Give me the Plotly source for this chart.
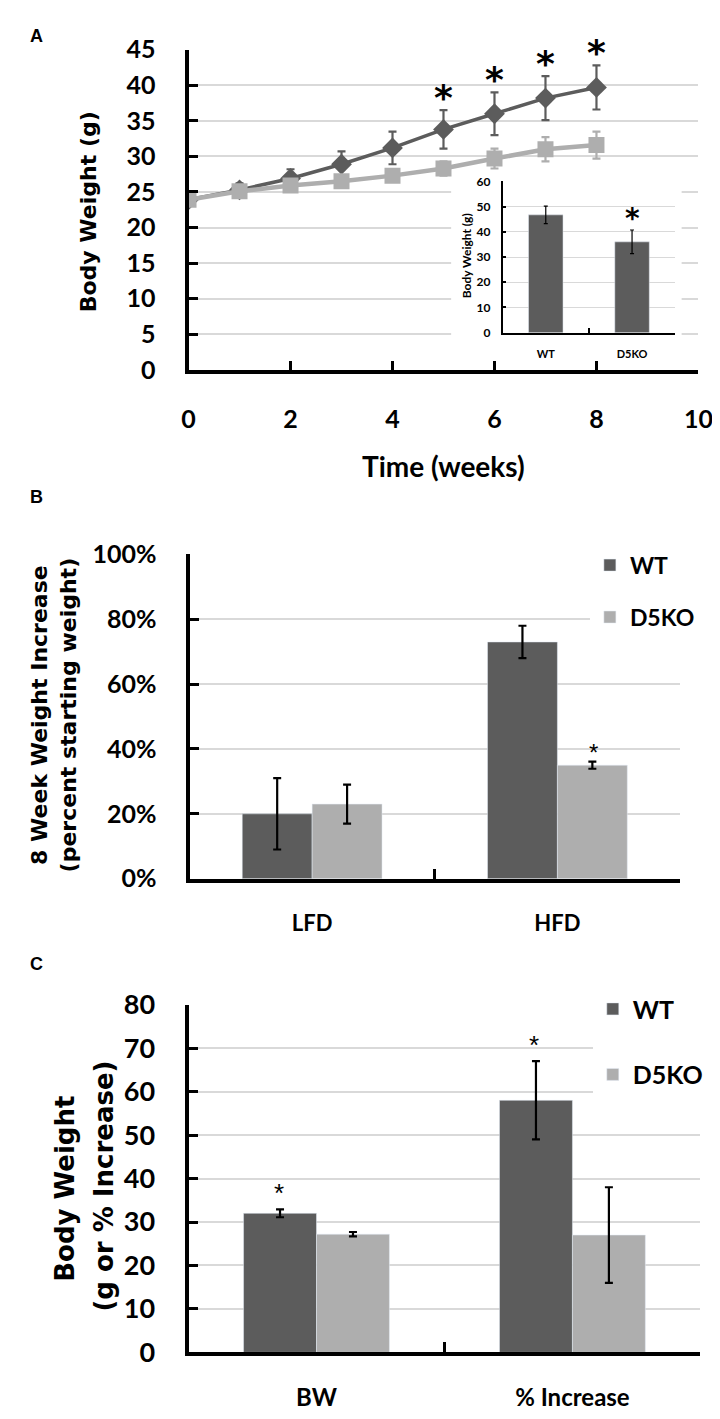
import plotly.graph_objects as go

# ---------------- data ----------------
weeks = [0, 1, 2, 3, 4, 5, 6, 7, 8]
wt_mean = [23.9, 25.3, 26.9, 28.9, 31.2, 33.8, 36.0, 38.2, 39.7]
wt_err = [0.5, 0.9, 1.3, 1.8, 2.3, 2.7, 3.0, 3.1, 3.1]
ko_mean = [23.9, 25.1, 25.9, 26.5, 27.3, 28.3, 29.7, 31.0, 31.6]
ko_err = [0.5, 0.6, 0.6, 0.7, 0.8, 1.0, 1.4, 1.7, 1.9]
wt_sig = [False, False, False, False, False, True, True, True, True]

inset_groups = ["WT", "D5KO"]
inset_vals = [46.7, 36.0]
inset_err = [3.5, 4.7]
inset_sig = [False, True]

diets = ["LFD", "HFD"]
b_wt = [20, 73]
b_wt_err = [11, 5]
b_ko = [23, 35]
b_ko_err = [6, 1.1]
b_ko_sig = [False, True]

c_cats = ["BW", "% Increase"]
c_wt = [32, 58]
c_wt_err = [0.9, 9]
c_ko = [27.2, 27]
c_ko_err = [0.5, 11]
c_wt_sig = [True, True]

# ---------------- style ----------------
W, H = 720, 1419
DARK = "#5c5c5c"
LIGHT = "#aeaeae"
GRID = "#d9d9d9"
TICKF = "Lato"


def fx(p):
    return p / W


def fy(p):
    return 1 - p / H


fig = go.Figure()

# Panel A lines
fig.add_trace(go.Scatter(
    x=weeks, y=wt_mean, mode="lines+markers", name="WT",
    line=dict(color=DARK, width=3.5),
    marker=dict(symbol="diamond", size=16, color=DARK),
    error_y=dict(type="data", array=wt_err, color=DARK, thickness=2.2, width=4),
    xaxis="x", yaxis="y", showlegend=False))
fig.add_trace(go.Scatter(
    x=weeks, y=ko_mean, mode="lines+markers", name="D5KO",
    line=dict(color=LIGHT, width=4.5),
    marker=dict(symbol="square", size=16, color=LIGHT),
    error_y=dict(type="data", array=ko_err, color=LIGHT, thickness=2.2, width=4),
    xaxis="x", yaxis="y", showlegend=False))

# Inset
fig.add_trace(go.Bar(
    x=inset_groups, y=inset_vals, marker_color=DARK, width=0.4,
    error_y=dict(type="data", array=inset_err, color="black", thickness=1.2, width=2),
    xaxis="x2", yaxis="y2", showlegend=False))

# Panel B
fig.add_trace(go.Bar(
    x=diets, y=b_wt, name="WT", marker_color=DARK,
    error_y=dict(type="data", array=b_wt_err, color="black", thickness=2.2, width=4),
    xaxis="x3", yaxis="y3", legend="legend", legendgroup="bwt"))
fig.add_trace(go.Bar(
    x=diets, y=b_ko, name="D5KO", marker_color=LIGHT,
    error_y=dict(type="data", array=b_ko_err, color="black", thickness=2.2, width=4),
    xaxis="x3", yaxis="y3", legend="legend", legendgroup="bko"))

# Panel C
fig.add_trace(go.Bar(
    x=c_cats, y=c_wt, name="WT", marker_color=DARK,
    error_y=dict(type="data", array=c_wt_err, color="black", thickness=2.2, width=4),
    xaxis="x4", yaxis="y4", legend="legend2", legendgroup="cwt"))
fig.add_trace(go.Bar(
    x=c_cats, y=c_ko, name="D5KO", marker_color=LIGHT,
    error_y=dict(type="data", array=c_ko_err, color="black", thickness=2.2, width=4),
    xaxis="x4", yaxis="y4", legend="legend2", legendgroup="cko"))

axis_common = dict(showline=True, linecolor="black", zeroline=False,
                   ticks="inside", tickcolor="black")


def tfont(size):
    return dict(family=TICKF, size=size, color="black", weight="bold")


layout = dict(
    width=W, height=H, margin=dict(l=0, r=0, t=0, b=0),
    paper_bgcolor="white", plot_bgcolor="white",
    barmode="group", bargap=0.43, bargroupgap=0,
    # Panel A
    xaxis=dict(domain=[fx(179), fx(705)], range=[0, 10], dtick=2, anchor="y",
               linewidth=4, ticklen=9, tickwidth=3, showgrid=False,
               tickfont=tfont(25), ticklabelstandoff=24, **axis_common),
    yaxis=dict(domain=[fy(352), fy(24.3)], range=[0, 45], dtick=5, anchor="x",
               linewidth=4, ticklen=9, tickwidth=3, showgrid=True,
               gridcolor=GRID, gridwidth=2, tickfont=tfont(25),
               ticklabelstandoff=24, **axis_common),
    # Inset
    xaxis2=dict(domain=[fx(503), fx(681)], type="category", anchor="y2",
                tickson="boundaries", linewidth=1.5, ticklen=5, tickwidth=1.5,
                showgrid=False, tickfont=tfont(11), ticklabelstandoff=10,
                **axis_common),
    yaxis2=dict(domain=[fy(314), fy(159)], range=[0, 60], dtick=10, anchor="x2",
                linewidth=1.5, ticklen=4, tickwidth=1.5, showgrid=True,
                gridcolor=GRID, gridwidth=1, tickfont=tfont(12),
                ticklabelstandoff=8, **axis_common),
    # Panel B
    xaxis3=dict(domain=[fx(180), fx(686)], type="category", anchor="y3",
                tickson="boundaries", linewidth=4, ticklen=10, tickwidth=3,
                showgrid=False, tickfont=tfont(22), ticklabelstandoff=22,
                **axis_common),
    yaxis3=dict(domain=[fy(873), fy(541)], range=[0, 100], dtick=20, anchor="x3",
                ticksuffix="%", linewidth=4, ticklen=9, tickwidth=3,
                showgrid=True, gridcolor=GRID, gridwidth=2, tickfont=tfont(25),
                ticklabelstandoff=24, **axis_common),
    # Panel C
    xaxis4=dict(domain=[fx(179), fx(707)], type="category", anchor="y4",
                tickson="boundaries", linewidth=4, ticklen=10, tickwidth=3,
                showgrid=False, tickfont=tfont(24), ticklabelstandoff=21,
                **axis_common),
    yaxis4=dict(domain=[fy(1358), fy(1002)], range=[0, 80], dtick=10, anchor="x4",
                linewidth=4, ticklen=9, tickwidth=3, showgrid=True,
                gridcolor=GRID, gridwidth=2, tickfont=tfont(27),
                ticklabelstandoff=24, **axis_common),
    legend=dict(x=fx(593), y=fy(530), xanchor="left", yanchor="top",
                bgcolor="white", borderwidth=0, tracegroupgap=19,
                font=dict(family=TICKF, size=23, color="black", weight="bold")),
    legend2=dict(x=fx(596), y=fy(983), xanchor="left", yanchor="top",
                 bgcolor="white", borderwidth=0, tracegroupgap=30,
                 font=dict(family=TICKF, size=25, color="black", weight="bold")),
)
fig.update_layout(**layout)

# white backing for the inset (covers the main gridlines behind it)
fig.add_shape(type="rect", xref="x", yref="y",
              x0=5.15, x1=9.67, y0=0.3, y1=27.0,
              fillcolor="white", line_width=0, layer="between")

ann = []
# Panel letters
for letter, ypx in [("A", 10), ("B", 482), ("C", 960)]:
    ann.append(dict(text=letter, x=fx(22), y=fy(ypx), xref="paper", yref="paper",
                    showarrow=False, xanchor="center", yanchor="middle",
                    font=dict(family="Liberation Sans", size=18, color="black", weight="bold")))

TITLEF = "DejaVu Sans"
# Axis titles
ann.append(dict(text="Body Weight (g)", x=fx(76), y=fy(190), xref="paper", yref="paper",
                textangle=-90, showarrow=False, xanchor="center", yanchor="middle",
                font=dict(family=TITLEF, size=22, color="black", weight="bold")))
ann.append(dict(text="Time (weeks)", x=fx(442), y=fy(450), xref="paper", yref="paper",
                showarrow=False, xanchor="center", yanchor="middle",
                font=dict(family=TICKF, size=28, color="black", weight="bold")))
ann.append(dict(text="Body Weight (g)", x=fx(466), y=fy(235), xref="paper", yref="paper",
                textangle=-90, showarrow=False, xanchor="center", yanchor="middle",
                font=dict(family=TICKF, size=12, color="black", weight="bold")))
ann.append(dict(text="8 Week Weight Increase<br>(percent starting weight)",
                x=fx(40), y=fy(705), xref="paper", yref="paper",
                textangle=-90, showarrow=False, xanchor="center", yanchor="middle",
                font=dict(family=TITLEF, size=22, color="black", weight="bold")))
ann.append(dict(text="Body Weight", x=fx(52), y=fy(1190), xref="paper", yref="paper",
                textangle=-90, showarrow=False, xanchor="center", yanchor="middle",
                font=dict(family=TITLEF, size=26, color="black", weight="bold")))
ann.append(dict(text="(g or % Increase)", x=fx(92), y=fy(1188), xref="paper", yref="paper",
                textangle=-90, showarrow=False, xanchor="center", yanchor="middle",
                font=dict(family=TITLEF, size=26, color="black", weight="bold")))

# significance asterisks
for wk, m, e, s in zip(weeks, wt_mean, wt_err, wt_sig):
    if s:
        ann.append(dict(text="*", x=wk, y=m + e, xref="x", yref="y", showarrow=False,
                        xanchor="center", yanchor="middle", yshift=13,
                        font=dict(family="DejaVu Sans", size=36, color="black", weight="bold")))
for g, m, e, s in zip(inset_groups, inset_vals, inset_err, inset_sig):
    if s:
        ann.append(dict(text="*", x=g, y=m + e, xref="x2", yref="y2", showarrow=False,
                        xanchor="center", yanchor="middle", yshift=12,
                        font=dict(family="DejaVu Sans", size=28, color="black", weight="bold")))
for g, m, e, s in zip(diets, b_ko, b_ko_err, b_ko_sig):
    if s:
        ann.append(dict(text="*", x=g, y=m + e, xref="x3", yref="y3", showarrow=False,
                        xanchor="center", yanchor="middle", yshift=9, xshift=36,
                        font=dict(family="Liberation Sans", size=24, color="black")))
for g, m, e, s in zip(c_cats, c_wt, c_wt_err, c_wt_sig):
    if s:
        ann.append(dict(text="*", x=g, y=m + e, xref="x4", yref="y4", showarrow=False,
                        xanchor="center", yanchor="middle", yshift=16, xshift=-38,
                        font=dict(family="Liberation Sans", size=26, color="black")))

fig.update_layout(annotations=ann)
fig.write_html("out.html")
